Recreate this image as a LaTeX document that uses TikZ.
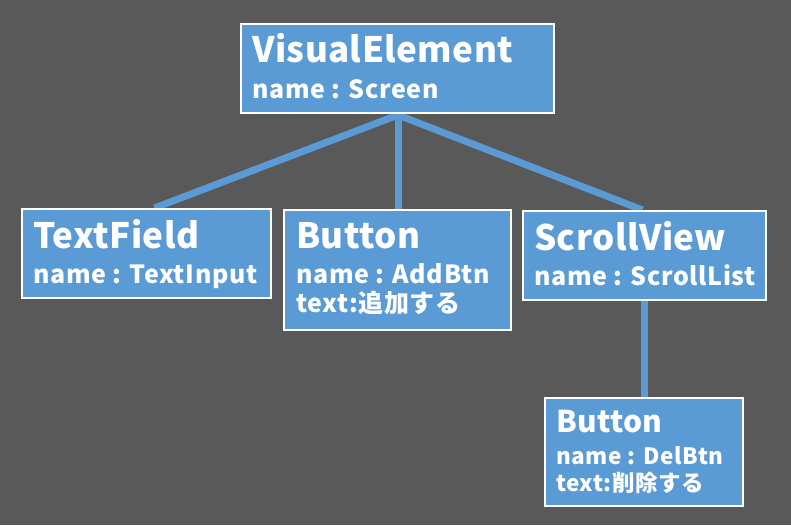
\documentclass[tikz,border=0pt]{standalone}
\usepackage{fontspec}
\setmainfont{Noto Sans CJK JP}
\newfontfamily\ttlfont{Noto Sans CJK JP}[LetterSpace=1.2]
\newfontfamily\subfont{Noto Sans CJK JP}[LetterSpace=2.5]
\usetikzlibrary{calc,backgrounds}
\definecolor{bgc}{HTML}{595959}
\definecolor{boxblue}{HTML}{5B9BD5}
\begin{document}
\begin{tikzpicture}[x=1pt,y=-1pt,
  box/.style={draw=white, line width=2pt, fill=boxblue, anchor=north west, inner sep=0pt},
  conn/.style={draw=boxblue, line width=7pt},
  ttl/.style={anchor=base west, inner sep=0pt, text=white, font=\ttlfont\bfseries\fontsize{35}{35}\selectfont},
  sub/.style={anchor=base west, inner sep=0pt, text=white, font=\subfont\bfseries\fontsize{25}{25}\selectfont},
  smallttl/.style={ttl, font=\ttlfont\bfseries\fontsize{30}{30}\selectfont},
  smallsub/.style={sub, font=\subfont\bfseries\fontsize{22.5}{22.5}\selectfont}]
\useasboundingbox (0,0) rectangle (791,525);
% boxes
\node[box, minimum width=313pt, minimum height=89pt] (ve) at (240,23) {};
\node[box, minimum width=249pt, minimum height=89pt] (tf) at (21,208) {};
\node[box, minimum width=227pt, minimum height=120pt] (ab) at (283,209) {};
\node[box, minimum width=243pt, minimum height=89pt] (sv) at (522,210) {};
\node[box, minimum width=198pt, minimum height=108pt] (db) at (544,397) {};
% texts
\node[ttl] (vet) at ($(ve.north west)+(12,39)$) {VisualElement};
\node[sub] (ves) at ($(ve.north west)+(12,75)$) {name : Screen};
\node[ttl] (tft) at ($(tf.north west)+(12,40)$) {TextField};
\node[sub] (tfs) at ($(tf.north west)+(12,75)$) {name : TextInput};
\node[ttl] (abt) at ($(ab.north west)+(13,39)$) {Button};
\node[sub] (abs) at ($(ab.north west)+(13,74)$) {name : AddBtn};
\node[sub] (abx) at ($(ab.north west)+(13,103)$) {text:追加する};
\node[ttl] (svt) at ($(sv.north west)+(12,40)$) {ScrollView};
\node[sub] (svs) at ($(sv.north west)+(12,75)$) {name : ScrollList};
\node[smallttl] (dbt) at ($(db.north west)+(12,35)$) {Button};
\node[smallsub] (dbs) at ($(db.north west)+(12,67)$) {name : DelBtn};
\node[smallsub] (dbx) at ($(db.north west)+(12,94)$) {text:削除する};
% connectors and background
\begin{scope}[on background layer]
\fill[bgc] (0,0) rectangle (791,525);
\coordinate (apex) at ($(ve.south)+(0.5,1)$);
\draw[conn] (apex) -- ([xshift=8pt]tf.north);
\draw[conn] (apex) -- (apex |- ab.north);
\draw[conn] (apex) -- ([xshift=-2pt]sv.north);
\draw[conn] (sv.south) -- (sv.south |- db.north);
\end{scope}
\end{tikzpicture}
\end{document}
